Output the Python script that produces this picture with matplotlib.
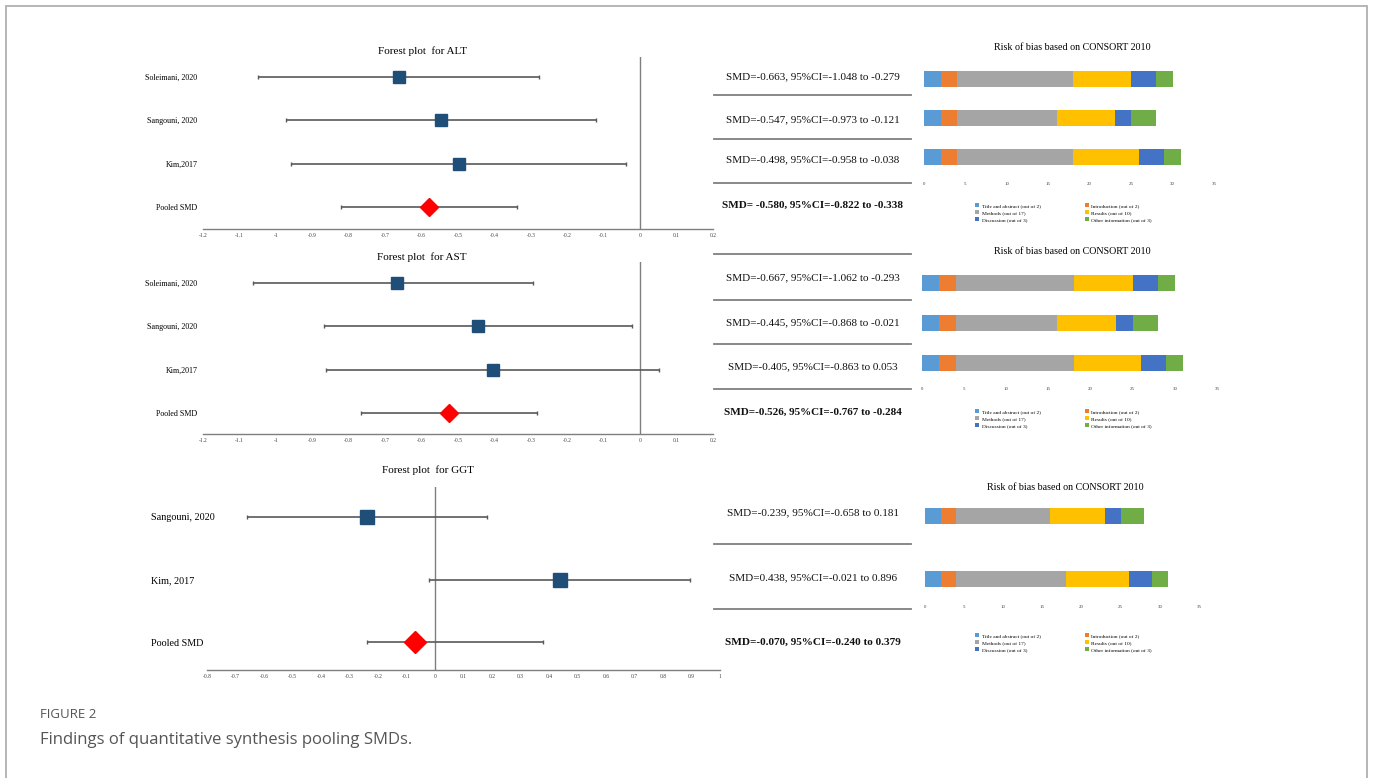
import matplotlib
matplotlib.use("Agg")
import matplotlib.pyplot as plt
import numpy as np
from matplotlib.patches import Patch, Rectangle
from matplotlib.lines import Line2D
from matplotlib.ticker import FuncFormatter

# ---- data -------------------------------------------------------------
alt_studies = ["Soleimani, 2020", "Sangouni, 2020", "Kim,2017", "Pooled SMD"]
alt_smd = [-0.663, -0.547, -0.498, -0.580]
alt_lo = [-1.048, -0.973, -0.958, -0.822]
alt_hi = [-0.279, -0.121, -0.038, -0.338]

ast_studies = ["Soleimani, 2020", "Sangouni, 2020", "Kim,2017", "Pooled SMD"]
ast_smd = [-0.667, -0.445, -0.405, -0.526]
ast_lo = [-1.062, -0.868, -0.863, -0.767]
ast_hi = [-0.293, -0.021, 0.053, -0.284]

ggt_studies = ["Sangouni, 2020", "Kim, 2017", "Pooled SMD"]
ggt_smd = [-0.239, 0.438, -0.070]
ggt_lo = [-0.658, -0.021, -0.240]
ggt_hi = [0.181, 0.896, 0.379]

# CONSORT 2010 item scores per study
rob_items = ["Title and abstract (out of 2)", "Introduction (out of 2)",
             "Methods (out of 17)", "Results (out of 10)",
             "Discussion (out of 3)", "Other information (out of 3)"]
soleimani_rob = [2, 2, 14, 7, 3, 2]
sangouni_rob = [2, 2, 12, 7, 2, 3]
kim_rob = [2, 2, 14, 8, 3, 2]

# ---- style ------------------------------------------------------------
W, H = 1373, 778
SERIF = "Liberation Serif"
ROB_COLORS = ["#5B9BD5", "#ED7D31", "#A5A5A5", "#FFC000", "#4472C4", "#70AD47"]
SQUARE_COLOR = "#1F4E79"
DIAMOND_COLOR = "#FF0000"
LINE_GRAY = "#7F7F7F"
CI_GRAY = "#595959"

plt.rcParams["font.family"] = SERIF

fig = plt.figure(figsize=(W / 100, H / 100), dpi=100)
fig.patch.set_facecolor("white")


def fx(x):
    return x / W


def fy(y):
    return 1 - y / H


def px_axes(x0, y0, x1, y1):
    return fig.add_axes([x0 / W, 1 - y1 / H, (x1 - x0) / W, (y1 - y0) / H])


def fmt_tick(v, _pos):
    v = round(v, 1) + 0.0
    return f"{v:g}"


def forest(box, first_px, last_px, studies, smd, lo, hi, xlim, step,
           label_size, label_left=None, sq=8, dm=9.5):
    ax = px_axes(*box)
    n = len(studies)
    rows = np.arange(n)
    row_px = (last_px - first_px) / (n - 1)
    smd = np.array(smd)
    lo = np.array(lo)
    hi = np.array(hi)

    ax.axvline(0, color=LINE_GRAY, lw=1.0, zorder=1)
    ax.errorbar(smd, rows, xerr=[smd - lo, hi - smd], fmt="none",
                ecolor=CI_GRAY, elinewidth=1.2, capsize=1.5, capthick=1.0,
                zorder=2)
    ax.plot(smd[:-1], rows[:-1], "s", color=SQUARE_COLOR, ms=sq, zorder=3)
    ax.plot(smd[-1:], rows[-1:], "D", color=DIAMOND_COLOR, ms=dm, zorder=3)

    ax.set_xlim(*xlim)
    ax.set_ylim((box[3] - first_px) / row_px, -(first_px - box[1]) / row_px)
    ax.set_xticks(np.arange(xlim[0], xlim[1] + step / 2, step))
    ax.xaxis.set_major_formatter(FuncFormatter(fmt_tick))
    ax.tick_params(axis="x", length=0, labelsize=4, pad=3, labelcolor="#404040")
    ax.set_yticks(rows)
    ax.set_yticklabels(studies, fontsize=label_size)
    if label_left is None:
        ax.tick_params(axis="y", length=0, pad=4)
    else:
        ax.tick_params(axis="y", length=0, pad=(box[0] - label_left) * 0.72)
        for t in ax.get_yticklabels():
            t.set_ha("left")
    for s in ["top", "right", "left"]:
        ax.spines[s].set_visible(False)
    ax.spines["bottom"].set_color(LINE_GRAY)
    ax.spines["bottom"].set_linewidth(1.0)
    ax.patch.set_alpha(0)
    return ax


def rob_panel(box, first_px, step_px, studies_rob, legend_xy):
    ax = px_axes(*box)
    n = len(studies_rob)
    rows = np.arange(n)
    height = 16 / step_px
    data = np.array(studies_rob)
    left = np.zeros(n)
    for j, color in enumerate(ROB_COLORS):
        ax.barh(rows, data[:, j], left=left, height=height, color=color,
                edgecolor="none")
        left += data[:, j]
    ax.set_xlim(0, 35)
    ax.set_ylim((box[3] - first_px) / step_px, -(first_px - box[1]) / step_px)
    ax.set_xticks(np.arange(0, 36, 5))
    ax.tick_params(axis="x", length=0, labelsize=3.5, pad=3, labelcolor="#404040")
    ax.set_yticks([])
    for s in ax.spines.values():
        s.set_visible(False)
    ax.patch.set_alpha(0)

    handles = [Patch(facecolor=ROB_COLORS[i], label=rob_items[i])
               for i in [0, 2, 4, 1, 3, 5]]
    ax.legend(handles=handles, ncol=2, loc="upper left",
              bbox_to_anchor=(fx(legend_xy[0]), fy(legend_xy[1])),
              bbox_transform=fig.transFigure, frameon=False, fontsize=3.9,
              handlelength=0.7, handleheight=0.7, handletextpad=0.5,
              labelspacing=0.4, columnspacing=8.2, borderpad=0,
              borderaxespad=0)
    return ax


def smd_label(smd, lo, hi, sep=""):
    return f"SMD={sep}{smd:.3f}, 95%CI={lo:.3f} to {hi:.3f}"


def smd_column(smd, lo, hi, text_y, line_y, size, pooled_sep=""):
    n = len(smd)
    for i in range(n):
        last = i == n - 1
        fig.text(fx(813), fy(text_y[i]),
                 smd_label(smd[i], lo[i], hi[i], pooled_sep if last else ""),
                 ha="center", va="center", fontsize=size,
                 fontweight="bold" if last else "normal", color="#111111")
    for y in line_y:
        fig.add_artist(Line2D([fx(714), fx(911)], [fy(y), fy(y)],
                              color=LINE_GRAY, lw=1.3))


# ---- ALT --------------------------------------------------------------
fig.text(fx(422), fy(51), "Forest plot  for ALT", ha="center", va="center",
         fontsize=8)
forest((203, 57, 713, 229), 77, 207, alt_studies, alt_smd, alt_lo, alt_hi,
       (-1.2, 0.2), 0.1, 5.8)
smd_column(alt_smd, alt_lo, alt_hi, [77, 120, 160, 205], [95, 139, 183], 8.0,
           pooled_sep=" ")
fig.text(fx(1072), fy(47), "Risk of bias based on CONSORT 2010", ha="center",
         va="center", fontsize=7.2)
rob_panel((924, 60, 1214, 178), 79, 39,
          [soleimani_rob, sangouni_rob, kim_rob], (975, 203))

# ---- AST --------------------------------------------------------------
fig.text(fx(422), fy(257), "Forest plot  for AST", ha="center", va="center",
         fontsize=8)
forest((203, 262, 713, 434), 283, 413, ast_studies, ast_smd, ast_lo, ast_hi,
       (-1.2, 0.2), 0.1, 5.8)
smd_column(ast_smd, ast_lo, ast_hi, [278, 323, 367, 412],
           [254, 300, 344, 389], 8.0)
fig.text(fx(1072), fy(252), "Risk of bias based on CONSORT 2010", ha="center",
         va="center", fontsize=7.2)
rob_panel((922, 264, 1217, 383), 283, 40,
          [soleimani_rob, sangouni_rob, kim_rob], (975, 409))

# ---- GGT --------------------------------------------------------------
fig.text(fx(428), fy(470), "Forest plot  for GGT", ha="center", va="center",
         fontsize=8)
forest((207, 487, 720, 670), 517, 642, ggt_studies, ggt_smd, ggt_lo, ggt_hi,
       (-0.8, 1.0), 0.1, 7.3, label_left=151, sq=9.5, dm=11)
smd_column(ggt_smd, ggt_lo, ggt_hi, [513, 578, 642], [544, 609], 8.1)
fig.text(fx(1065), fy(487), "Risk of bias based on CONSORT 2010", ha="center",
         va="center", fontsize=7.2)
rob_panel((925, 495, 1199, 601), 516, 63, [sangouni_rob, kim_rob], (975, 633))

# ---- caption and frame ------------------------------------------------
fig.text(fx(40), fy(714), "FIGURE 2", ha="left", va="center", fontsize=9.5,
         family="Open Sans", color="#555555")
fig.text(fx(40), fy(740), "Findings of quantitative synthesis pooling SMDs.",
         ha="left", va="center", fontsize=12, family="Open Sans",
         color="#555555")
fig.add_artist(Rectangle((fx(6), fy(800)), (1367 - 6) / W, (800 - 6) / H,
                         fill=False, edgecolor="#B0B0B0", lw=1.3,
                         transform=fig.transFigure))

fig.savefig("out.png", dpi=100, facecolor="white")
